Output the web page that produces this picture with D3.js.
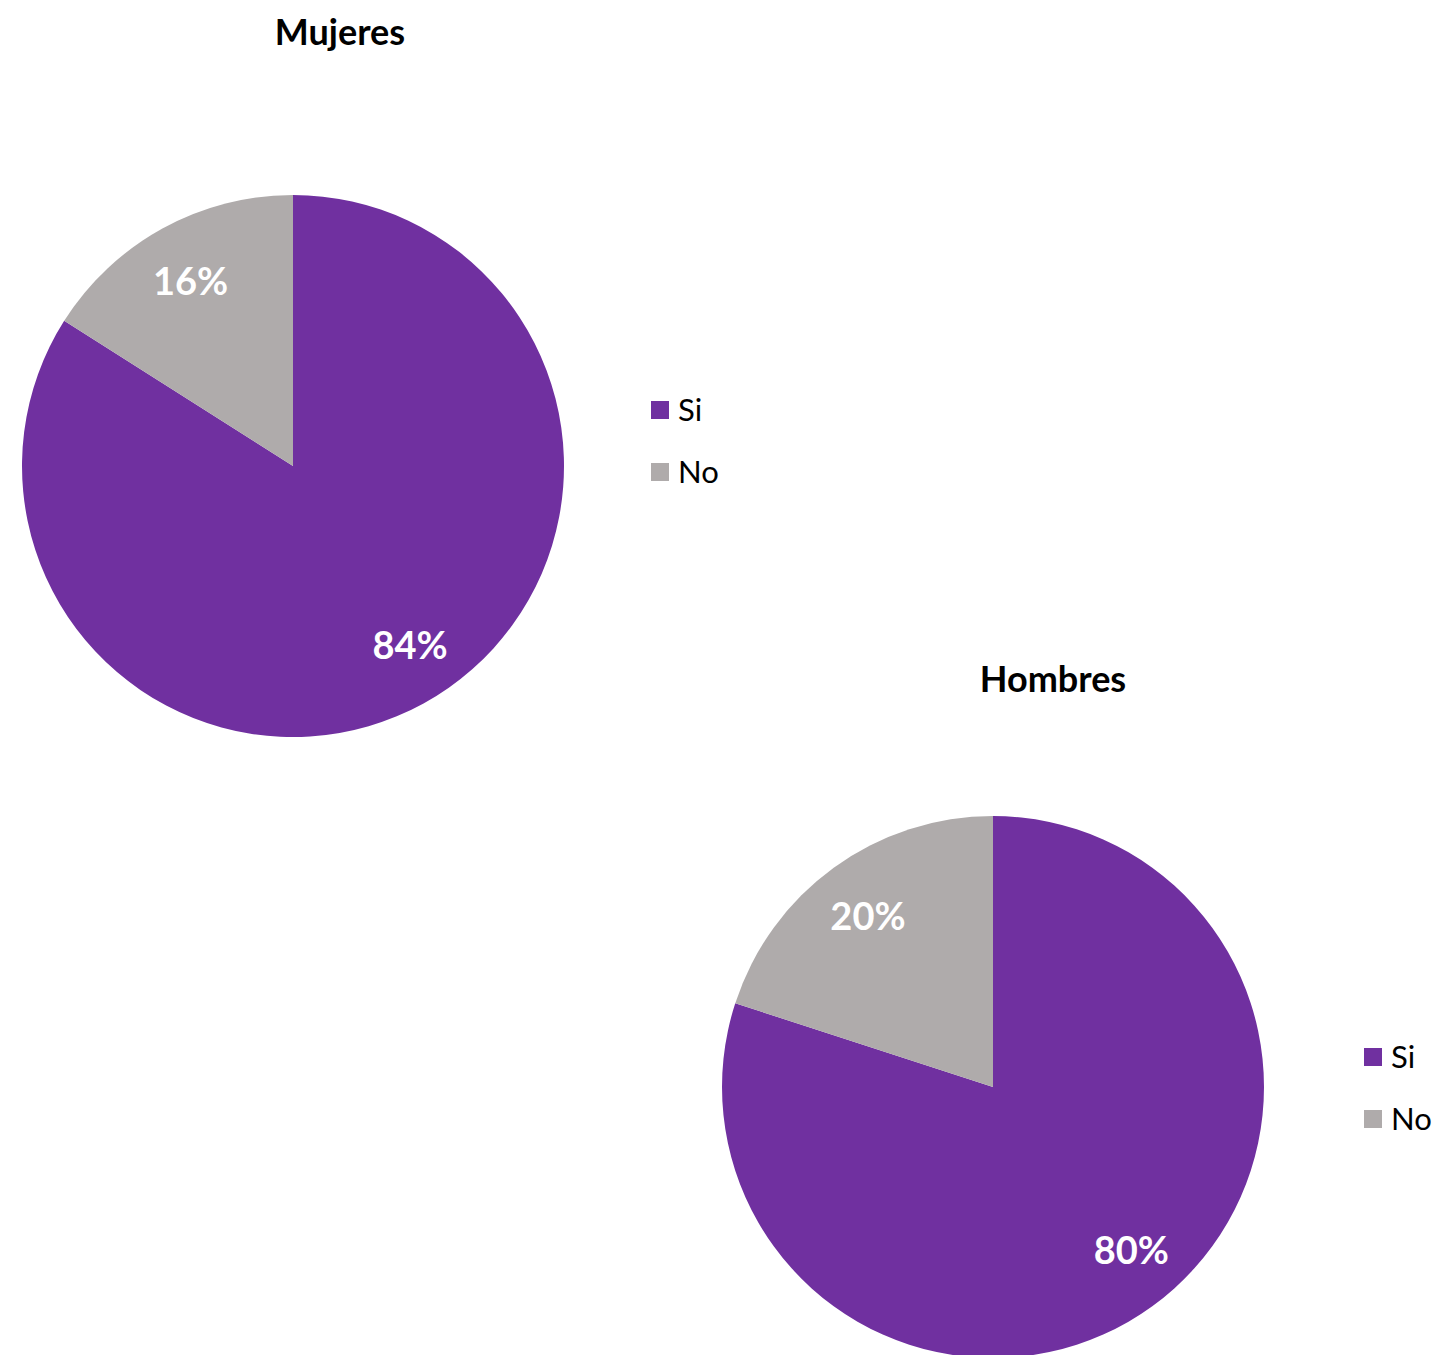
<!DOCTYPE html>
<html><head><meta charset="utf-8">
<script src="https://cdn.jsdelivr.net/npm/d3@7"></script>
<style>body{margin:0;background:#fff}svg{display:block}</style>
</head><body>
<svg id="c" width="1433" height="1355"></svg>
<script>
const categories = ["Si", "No"];
const mujeresValues = [84, 16];
const hombresValues = [80, 20];
const charts = [
  {title: "Mujeres", values: mujeresValues},
  {title: "Hombres", values: hombresValues}
];
const colors = d3.scaleOrdinal().domain(categories).range(["#7030A0", "#AFABAB"]);
const layout = [
  {cx: 293, cy: 466, r: 271, tx: 340, ty: 45, lx: 651, ly: 401},
  {cx: 993, cy: 1087, r: 271, tx: 1053, ty: 692, lx: 1364, ly: 1048}
];
const svg = d3.select("#c");
const font = "Lato, 'Open Sans', sans-serif";
const pie = d3.pie().sort(null).value(d => d.v);
charts.forEach((c, i) => {
  const L = layout[i];
  const data = categories.map((k, j) => ({k, v: c.values[j]}));
  const arcs = pie(data);
  const arc = d3.arc().innerRadius(0).outerRadius(L.r);
  const labPos = d => {
    let a = (d.startAngle + d.endAngle) / 2;
    if (d.endAngle - d.startAngle > Math.PI) a -= 0.08;
    const rr = L.r * 0.785;
    return [Math.sin(a) * rr, -Math.cos(a) * rr];
  };
  const g = svg.append("g").attr("transform", `translate(${L.cx},${L.cy})`);
  g.selectAll("path").data(arcs).join("path")
    .attr("d", arc).attr("fill", d => colors(d.data.k));
  g.selectAll("text").data(arcs).join("text")
    .attr("transform", d => `translate(${labPos(d)})`)
    .attr("text-anchor", "middle").attr("dominant-baseline", "central")
    .attr("font-family", font).attr("font-weight", "bold").attr("font-size", 38)
    .attr("fill", "#fff").text(d => d.data.v + "%");
  svg.append("text").attr("x", L.tx).attr("y", L.ty).attr("text-anchor", "middle")
    .attr("font-family", font).attr("font-weight", "bold").attr("font-size", 36)
    .attr("fill", "#000").text(c.title);
  const lg = svg.append("g").attr("transform", `translate(${L.lx},${L.ly})`);
  categories.forEach((k, j) => {
    lg.append("rect").attr("x", 0).attr("y", j * 62).attr("width", 18).attr("height", 18).attr("fill", colors(k));
    lg.append("text").attr("x", 27).attr("y", j * 62 + 8).attr("dominant-baseline", "central")
      .attr("font-family", font).attr("font-size", 31).attr("fill", "#000").text(k);
  });
});
</script>
</body></html>
